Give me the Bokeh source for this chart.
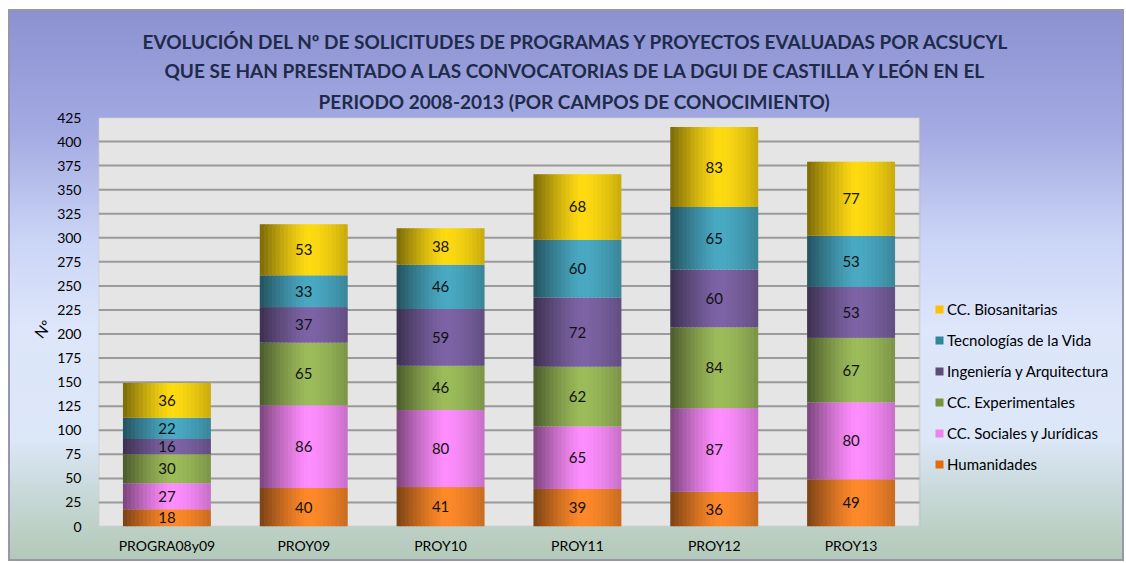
import numpy as np
from bokeh.plotting import figure
from bokeh.models import (Range1d, FixedTicker, Title, Legend, LegendItem,
                          ColumnDataSource, BoxAnnotation)
from bokeh.transform import dodge
from bokeh.core.properties import value
from bokeh.embed import file_html
from bokeh.resources import INLINE

# ---------------- data ----------------
categories = ["PROGRA08y09", "PROY09", "PROY10", "PROY11", "PROY12", "PROY13"]
series_names = ["Humanidades", "CC. Sociales y Jurídicas", "CC. Experimentales",
                "Ingeniería y Arquitectura", "Tecnologías de la Vida", "CC. Biosanitarias"]
humanidades = [18, 40, 41, 39, 36, 49]
sociales = [27, 86, 80, 65, 87, 80]
experimentales = [30, 65, 46, 62, 84, 67]
ingenieria = [16, 37, 59, 72, 60, 53]
tecnologias = [22, 33, 46, 60, 65, 53]
biosanitarias = [36, 53, 38, 68, 83, 77]
y_ticks = list(range(0, 426, 25))
y_max = 425

title_lines = [
    "EVOLUCIÓN DEL Nº DE SOLICITUDES DE PROGRAMAS Y PROYECTOS EVALUADAS POR ACSUCYL",
    "QUE SE HAN PRESENTADO A LAS CONVOCATORIAS DE LA DGUI DE CASTILLA Y LEÓN EN EL",
    "PERIODO 2008-2013  (POR CAMPOS DE CONOCIMIENTO)",
]

# ---------------- style ----------------
bright_colors = ["#FF8A2A", "#FF8EFF", "#9DBD5B", "#7E64A6", "#4AAAC4", "#FFDB12"]
legend_colors = ["#E46C0A", "#EE82EE", "#77933C", "#604A7B", "#31859C", "#FFC000"]
FONT = "Lato"
TITLE_COLOR = "#1F2B4A"
title_offsets = [44, 66, 220]     # left offsets of each title line from the frame
title_standoffs = [3, 4, 9]

n_cat = len(categories)
xpos = list(range(1, n_cat + 1))
series = [humanidades, sociales, experimentales, ingenieria, tecnologias, biosanitarias]
keys = ["s%d" % i for i in range(len(series))]

data = {"x": xpos}
for k, s in zip(keys, series):
    data[k] = s
source = ColumnDataSource(data)

# label positions (midpoints of stacked segments)
arr = np.array(series, dtype=float)
tops = np.cumsum(arr, axis=0)
mids = tops - arr / 2.0
lab_x, lab_y, lab_t = [], [], []
for i in range(arr.shape[0]):
    for j in range(n_cat):
        lab_x.append(xpos[j])
        lab_y.append(mids[i, j])
        lab_t.append(str(int(arr[i, j])))
lab_src = ColumnDataSource(dict(x=lab_x, y=lab_y, t=lab_t))

# geometry of the canvas (pixels)
W, H = 1124, 561
LEFT, TOP, BOTTOM, RIGHT = 98, 117, 35, 14
PLOT_AREA_W = 821                       # grey plotting area width
frame_w = W - LEFT - RIGHT
cat_px = PLOT_AREA_W / n_cat
x_end = 0.5 + frame_w / cat_px

p = figure(width=W, height=H, x_range=Range1d(0.5, x_end),
           y_range=Range1d(0, y_max), output_backend="svg", toolbar_location=None,
           min_border_left=LEFT, min_border_right=RIGHT, min_border_top=TOP,
           min_border_bottom=BOTTOM)

p.border_fill_color = None
p.background_fill_color = None
p.outline_line_color = None
p.styles = {
    "background-color": "#FFFFFF",
    "background-image": ("linear-gradient(to bottom, #8C91D1 0%, #A4AAE2 22%, #CBD5F6 42%, "
                         "#DDE6FA 58%, #DCE7F8 78%, #C4D6D2 90%, #B3C9B8 100%), "
                         "linear-gradient(#9497AE, #9497AE)"),
    "background-position": "10px 11px, 8px 9px",
    "background-size": "1112px 548px, 1116px 552px",
    "background-repeat": "no-repeat",
}

# grey plot area
p.add_layout(BoxAnnotation(left=0.5, right=n_cat + 0.5, bottom=0, top=y_max,
                           fill_color="#E5E5E5", fill_alpha=1, line_color="#ABABAB",
                           line_width=2, level="image"))

# horizontal grid lines limited to the plot area
p.xgrid.grid_line_color = None
p.ygrid.grid_line_color = None
grid_y = y_ticks[1:-1]
p.segment(x0=[0.5] * len(grid_y), x1=[n_cat + 0.5] * len(grid_y), y0=grid_y, y1=grid_y,
          line_color="#9A9A9A", line_width=2)

def shade(hexcol, t):
    r = int(hexcol[1:3], 16); g = int(hexcol[3:5], 16); b = int(hexcol[5:7], 16)
    if t < 0.55:
        d = 0.52 * ((0.55 - t) / 0.55) ** 1.3
    else:
        d = 0.22 * ((t - 0.55) / 0.45) ** 1.6
    f = 1 - d
    return "#%02x%02x%02x" % (int(r * f), int(g * f), int(b * f))

BAR_W = 0.643
N = 22
sw = BAR_W / N
for k in range(N):
    t = (k + 0.5) / N
    off = -BAR_W / 2 + (k + 0.5) * sw
    extra = 0.0 if k == N - 1 else 0.009
    cols = [shade(c, t) for c in bright_colors]
    p.vbar_stack(keys, x=dodge("x", off + extra / 2), width=sw + extra,
                 color=cols, line_color=None, source=source)

p.text(x="x", y="y", text="t", source=lab_src, text_align="center", text_baseline="middle",
       text_font=value(FONT), text_font_size="15px", text_color="#111111")

# axes
p.yaxis.ticker = FixedTicker(ticks=y_ticks)
p.xaxis.ticker = FixedTicker(ticks=xpos)
p.xaxis.major_label_overrides = {x: c for x, c in zip(xpos, categories)}
for ax in (p.xaxis, p.yaxis):
    ax.axis_line_color = None
    ax.major_tick_line_color = None
    ax.minor_tick_line_color = None
    ax.major_label_text_font = FONT
    ax.major_label_text_font_size = "14px"
    ax.major_label_text_color = "#000000"
p.yaxis.major_label_standoff = 11
p.xaxis.major_label_standoff = 4
p.yaxis.axis_label = "Nº"
p.yaxis.axis_label_orientation = 0.9
p.yaxis.axis_label_text_font = FONT
p.yaxis.axis_label_text_font_size = "15px"
p.yaxis.axis_label_text_font_style = "normal"
p.yaxis.axis_label_text_color = "#000000"
p.yaxis.axis_label_standoff = 6

# titles (added from nearest to the frame outward)
for line, off, so in reversed(list(zip(title_lines, title_offsets, title_standoffs))):
    p.add_layout(Title(text=line, align="left", offset=off, text_font=FONT,
                       text_font_size="19px", text_font_style="bold", text_color=TITLE_COLOR,
                       standoff=so), "above")

# legend
items = []
for name, col in zip(series_names, legend_colors):
    r = p.vbar(x=[xpos[0]], top=[0], bottom=[0], width=0.0001, fill_color=col, line_color=None)
    items.append(LegendItem(label=name, renderers=[r]))
items = list(reversed(items))
legend = Legend(items=items, location=(PLOT_AREA_W + 15, 52), glyph_width=10, glyph_height=10,
                label_height=20, spacing=11, padding=0, margin=0, border_line_color=None,
                background_fill_alpha=0, label_text_font=FONT, label_text_font_size="15px",
                label_text_color="#000000", label_standoff=3)
p.add_layout(legend, "center")

open("out.html", "w").write(file_html(p, INLINE))
